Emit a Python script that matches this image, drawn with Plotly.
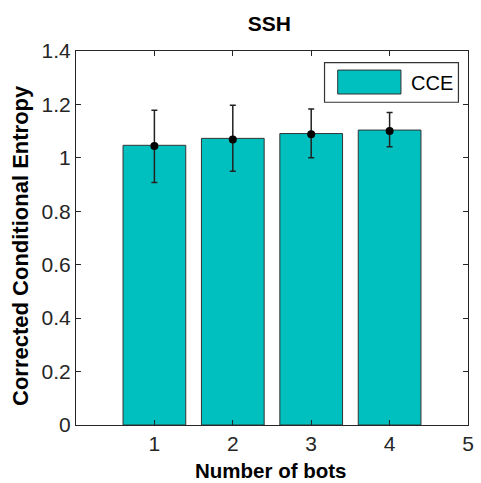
import plotly.graph_objects as go

bots = [1, 2, 3, 4]
cce = [1.047, 1.073, 1.091, 1.104]
mean_vals = [1.044, 1.069, 1.088, 1.101]
err_plus = [0.134, 0.128, 0.095, 0.069]
err_minus = [0.136, 0.119, 0.088, 0.059]
x_ticks = [1, 2, 3, 4, 5]
y_ticks = [0, 0.2, 0.4, 0.6, 0.8, 1.0, 1.2, 1.4]
y_labels = ["0", "0.2", "0.4", "0.6", "0.8", "1", "1.2", "1.4"]

FONT = "Liberation Sans, Arial, sans-serif"
TXT = "#262626"
BAR = "#00BFBF"

fig = go.Figure()
fig.add_trace(go.Bar(
    x=bots, y=cce, width=0.8,
    marker=dict(color=BAR, line=dict(color="#333333", width=1)),
    showlegend=False, hoverinfo="skip",
))
fig.add_trace(go.Scatter(
    x=bots, y=mean_vals, mode="markers",
    marker=dict(color="black", size=8),
    error_y=dict(type="data", symmetric=False, array=err_plus, arrayminus=err_minus,
                 color="#222222", thickness=1.5, width=3),
    showlegend=False, hoverinfo="skip",
))

axis_common = dict(
    showline=True, linecolor=TXT, linewidth=1, mirror="allticks",
    ticks="inside", ticklen=5, tickcolor=TXT, showgrid=False, zeroline=False,
    tickfont=dict(family=FONT, size=21, color=TXT),
)
fig.update_xaxes(range=[0, 5], tickvals=x_ticks, ticktext=[str(v) for v in x_ticks], **axis_common)
fig.update_yaxes(range=[0, 1.4], tickvals=y_ticks, ticktext=y_labels, **axis_common)

# legend box (drawn manually to match the large swatch)
fig.add_shape(type="rect", xref="paper", yref="paper", x0=0.634, x1=0.9756, y0=0.863, y1=0.969,
              line=dict(color="#333333", width=1.2), fillcolor="white", layer="above")
fig.add_shape(type="rect", xref="paper", yref="paper", x0=0.6676, x1=0.829, y0=0.885, y1=0.949,
              line=dict(color="#333333", width=1), fillcolor=BAR, layer="above")
fig.add_annotation(text="CCE", xref="paper", yref="paper", x=0.849, y=0.914,
                   xanchor="left", yanchor="middle", showarrow=False,
                   font=dict(family=FONT, size=20, color="black"))

fig.add_annotation(text="<b>Number of bots</b>", xref="paper", yref="paper", x=0.496, y=-0.122,
                   xanchor="center", yanchor="middle", showarrow=False,
                   font=dict(family=FONT, size=20.5, color="black"))
fig.add_annotation(text="<b>Corrected Conditional Entropy</b>", xref="paper", yref="paper",
                   x=-0.14, y=0.479, textangle=-90, xanchor="center", yanchor="middle",
                   showarrow=False, font=dict(family=FONT, size=22, color="black"))

fig.update_layout(
    width=481, height=483,
    margin=dict(l=76, r=7, t=51, b=58),
    paper_bgcolor="white", plot_bgcolor="white",
    title=dict(text="<b>SSH</b>", x=0.493, xref="paper", y=1 - 24 / 483, yanchor="middle",
               xanchor="center", font=dict(family=FONT, size=21, color="black")),
    showlegend=False,
)

fig.write_html("out.html")
